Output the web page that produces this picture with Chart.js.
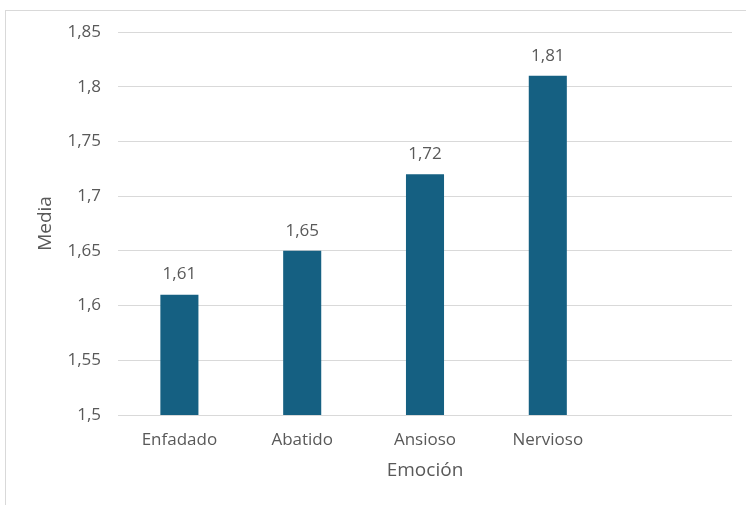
<!DOCTYPE html>
<html>
<head>
<meta charset="utf-8">
<script src="https://cdn.jsdelivr.net/npm/chart.js@4/dist/chart.umd.min.js"></script>
<style>
  html, body { margin: 0; padding: 0; background: #ffffff; overflow: hidden; width: 746px; height: 505px; }
  #frame { position: absolute; left: 5px; top: 10px; width: 800px; height: 560px; border: 1px solid #d9d9d9; box-sizing: border-box; }
  #chart { position: absolute; left: 6px; top: 11px; }
</style>
</head>
<body>
<div id="frame"></div>
<canvas id="chart" width="740" height="494"></canvas>
<script>
// Mean score per emotion
const emociones = ['Enfadado', 'Abatido', 'Ansioso', 'Nervioso', ''];
const medias = [1.61, 1.65, 1.72, 1.81, null];
const yMin = 1.5;
const yMax = 1.85;
const yStep = 0.05;

const FONT = "'Open Sans', 'Liberation Sans', Arial, sans-serif";
const GREY = '#595959';

function fmt(v) {
  return String(Math.round(v * 100) / 100).replace('.', ',');
}

// Writes each bar's value above it
const valueLabels = {
  id: 'valueLabels',
  afterDatasetsDraw(chart) {
    const ctx = chart.ctx;
    const meta = chart.getDatasetMeta(0);
    ctx.save();
    ctx.font = '17px ' + FONT;
    ctx.fillStyle = GREY;
    ctx.textAlign = 'center';
    ctx.textBaseline = 'middle';
    meta.data.forEach((bar, i) => {
      const v = chart.data.datasets[0].data[i];
      if (v == null) return;
      ctx.fillText(fmt(v), bar.x, bar.y - 20);
    });
    ctx.restore();
  }
};

new Chart(document.getElementById('chart'), {
  type: 'bar',
  data: {
    labels: emociones,
    datasets: [{
      data: medias,
      backgroundColor: '#156082',
      borderWidth: 0,
      barPercentage: 0.31,
      categoryPercentage: 1.0
    }]
  },
  options: {
    responsive: false,
    animation: false,
    layout: { padding: { left: 28, right: 14, top: 21, bottom: 20 } },
    plugins: {
      legend: { display: false },
      tooltip: { enabled: false }
    },
    scales: {
      x: {
        grid: { display: false, drawTicks: false },
        border: { display: false },
        ticks: { color: GREY, font: { family: FONT, size: 17 }, padding: 15, maxRotation: 0, autoSkip: false },
        title: { display: true, text: 'Emoción', color: GREY, font: { family: FONT, size: 19 }, padding: { top: 0, bottom: 3 } },
        afterFit(scale) { scale.height = 70; }
      },
      y: {
        min: yMin,
        max: yMax,
        grid: { color: '#d9d9d9', lineWidth: 1, drawTicks: false },
        border: { display: false },
        ticks: { stepSize: yStep, color: GREY, font: { family: FONT, size: 17 }, padding: 17, callback: (v) => fmt(v) },
        title: { display: true, text: 'Media', color: GREY, font: { family: FONT, size: 19 }, padding: { top: 0, bottom: 0 } },
        afterFit(scale) {
          scale.width = 84;
          scale.paddingTop = 0;
          scale.paddingBottom = 0;
        }
      }
    }
  },
  plugins: [valueLabels]
});
</script>
</body>
</html>
